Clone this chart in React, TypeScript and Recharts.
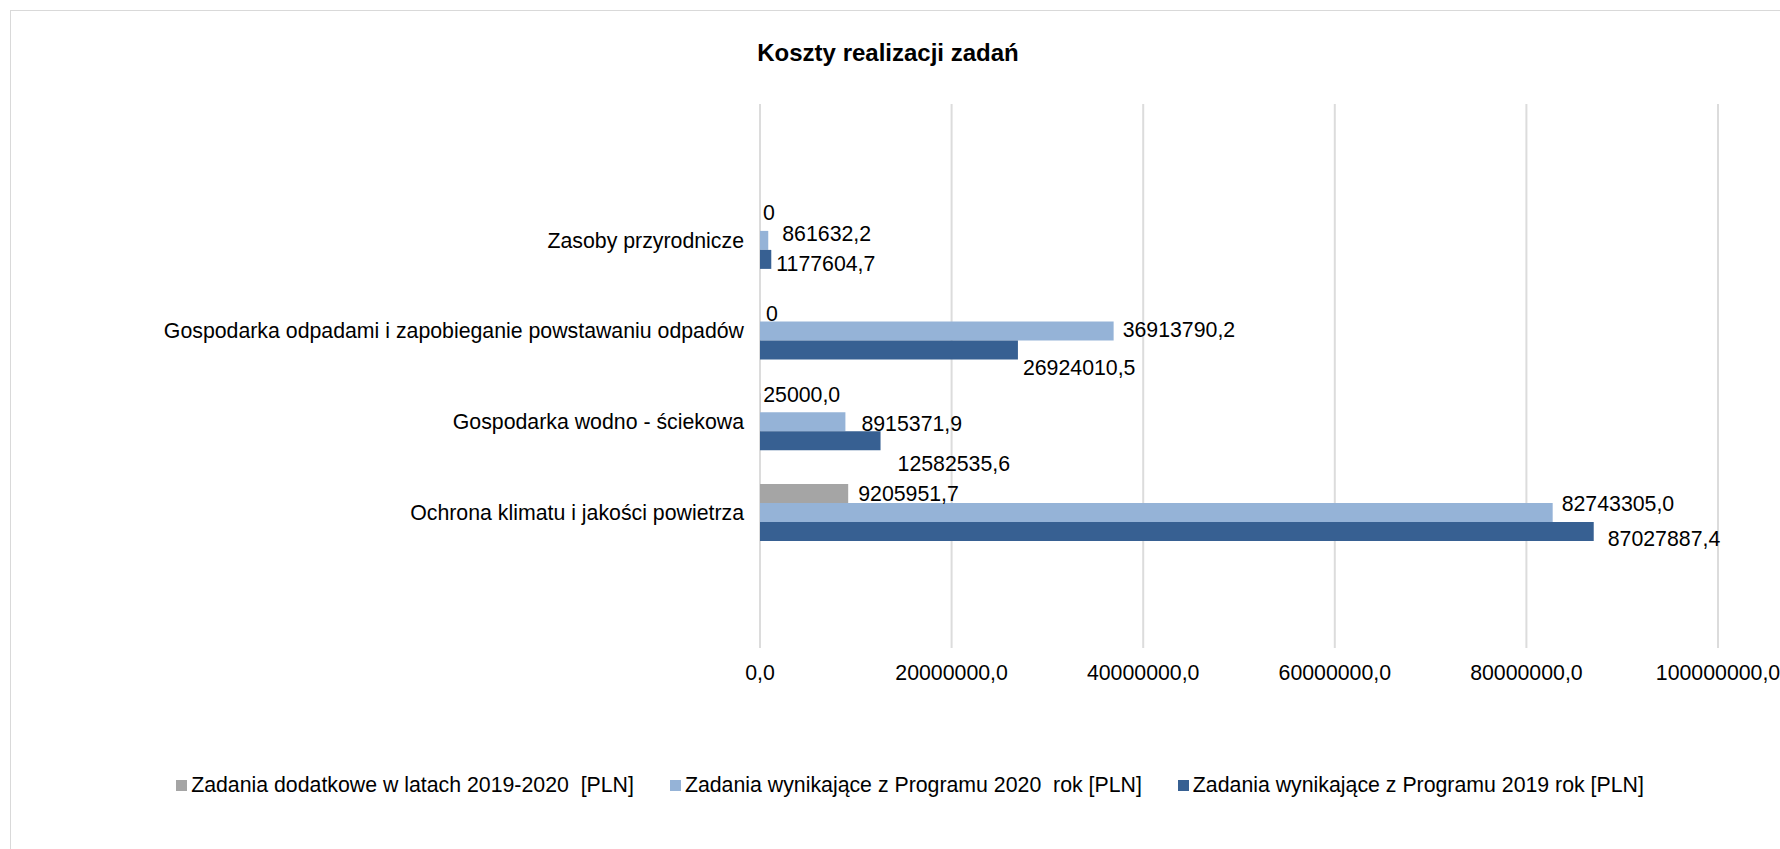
import React from 'react';
import { BarChart, Bar, XAxis, YAxis, CartesianGrid, Legend, LabelList } from 'recharts';

// categories top to bottom (blank slots keep Excel's empty padding rows)
const categories = [
  '',
  'Zasoby przyrodnicze',
  'Gospodarka odpadami i zapobieganie powstawaniu odpadów',
  'Gospodarka wodno - ściekowa',
  'Ochrona klimatu i jakości powietrza',
  '',
];

const extraTasks = [null, 0, 0, 25000.0, 9205951.7, null];
const program2020 = [null, 861632.2, 36913790.2, 8915371.9, 82743305.0, null];
const program2019 = [null, 1177604.7, 26924010.5, 12582535.6, 87027887.4, null];

const xTicks = [0, 20000000, 40000000, 60000000, 80000000, 100000000];

const series = [
  { key: 'extra', name: 'Zadania dodatkowe w latach 2019-2020  [PLN]', color: '#a5a5a5', values: extraTasks },
  { key: 'p2020', name: 'Zadania wynikające z Programu 2020  rok [PLN]', color: '#95b3d7', values: program2020 },
  { key: 'p2019', name: 'Zadania wynikające z Programu 2019 rok [PLN]', color: '#376092', values: program2019 },
];

// hand-placed label offsets from the original sheet [dx, dy] per category
const labelNudge: Record<string, number[][]> = {
  extra: [[0, 0], [-3, -9], [0, 1], [-3, -8], [4, 0], [0, 0]],
  p2020: [[0, 0], [8, -7], [3, -2], [10, 2], [3, -9], [0, 0]],
  p2019: [[0, 0], [-1, 4], [-1, 17], [11, 23], [8, 7], [0, 0]],
};

const data = categories.map((name, i) => {
  const row: any = { name };
  series.forEach((s) => {
    row[s.key] = s.values[i];
    row[s.key + 'Idx'] = i;
  });
  return row;
});

const FONT = '"Liberation Sans", Arial, sans-serif';
const FS = 21.3;

const fmt = (v: number) => (v === 0 ? '0' : v.toFixed(1).replace('.', ','));

// label value carries the category index, the shown number comes from the series array
const makeLabel = (s: (typeof series)[number]) => (props: any) => {
  const { x, y, width, height, value } = props;
  const idx = Number(value);
  const v = s.values[idx];
  if (v === null || v === undefined) return null;
  const [dx, dy] = labelNudge[s.key][idx] || [0, 0];
  const w = v === 0 ? 0 : Number(width || 0);
  return (
    <text
      x={Number(x) + w + 6 + dx}
      y={Number(y) + Number(height) / 2 + dy}
      dy="0.35em"
      fontSize={FS}
      fontFamily={FONT}
      fill="#000"
    >
      {fmt(v)}
    </text>
  );
};

const renderLegend = () => (
  <div
    style={{
      display: 'flex',
      justifyContent: 'center',
      gap: 36,
      fontFamily: FONT,
      fontSize: FS,
      lineHeight: '26px',
      color: '#000',
    }}
  >
    {series.map((s) => (
      <div key={s.key} style={{ display: 'flex', alignItems: 'center' }}>
        <span style={{ width: 11, height: 11, background: s.color, marginRight: 4 }} />
        <span style={{ whiteSpace: 'pre' }}>{s.name}</span>
      </div>
    ))}
  </div>
);

const App: React.FC = () => {
  return (
    <div
      style={{
        position: 'fixed',
        top: 0,
        left: 0,
        width: 1780,
        height: 849,
        overflow: 'hidden',
        background: '#fff',
        fontFamily: FONT,
      }}
    >
      <div
        style={{
          position: 'absolute',
          top: 10,
          left: 10,
          width: 1800,
          height: 900,
          border: '1px solid #d9d9d9',
        }}
      />
      <div
        style={{
          position: 'absolute',
          top: 39,
          left: 0,
          width: 1776,
          textAlign: 'center',
          fontWeight: 'bold',
          fontSize: 24,
          lineHeight: '28px',
          color: '#000',
        }}
      >
        Koszty realizacji zadań
      </div>
      <div style={{ position: 'absolute', top: 0, left: 0 }}>
        <BarChart
          width={1780}
          height={849}
          data={data}
          layout="vertical"
          margin={{ top: 104, right: 62, bottom: 171, left: 0 }}
          barCategoryGap="19%"
          barGap={0}
        >
          <CartesianGrid horizontal={false} stroke="#dcdcdc" strokeWidth={2} />
          <XAxis
            type="number"
            domain={[0, 100000000]}
            ticks={xTicks}
            interval={0}
            height={30}
            axisLine={false}
            tickLine={false}
            tickSize={0}
            tickMargin={17}
            tickFormatter={(v) => Number(v).toFixed(1).replace('.', ',')}
            tick={{ fontSize: FS, fontFamily: FONT, fill: '#000' }}
          />
          <YAxis
            type="category"
            dataKey="name"
            width={760}
            axisLine={false}
            tickLine={false}
            tickSize={0}
            tickMargin={16}
            interval={0}
            tick={{ fontSize: FS, fontFamily: FONT, fill: '#000' }}
          />
          <Legend
            layout="horizontal"
            verticalAlign="middle"
            align="center"
            content={renderLegend}
            wrapperStyle={{ top: 772, left: 40, width: 1740 }}
          />
          {series.map((s) => (
            <Bar
              key={s.key}
              dataKey={s.key}
              name={s.name}
              fill={s.color}
              minPointSize={(v: any) => (v === 0 ? 0.01 : 0)}
              isAnimationActive={false}
            >
              <LabelList dataKey={s.key + 'Idx'} content={makeLabel(s)} />
            </Bar>
          ))}
        </BarChart>
      </div>
    </div>
  );
};

export default App;
